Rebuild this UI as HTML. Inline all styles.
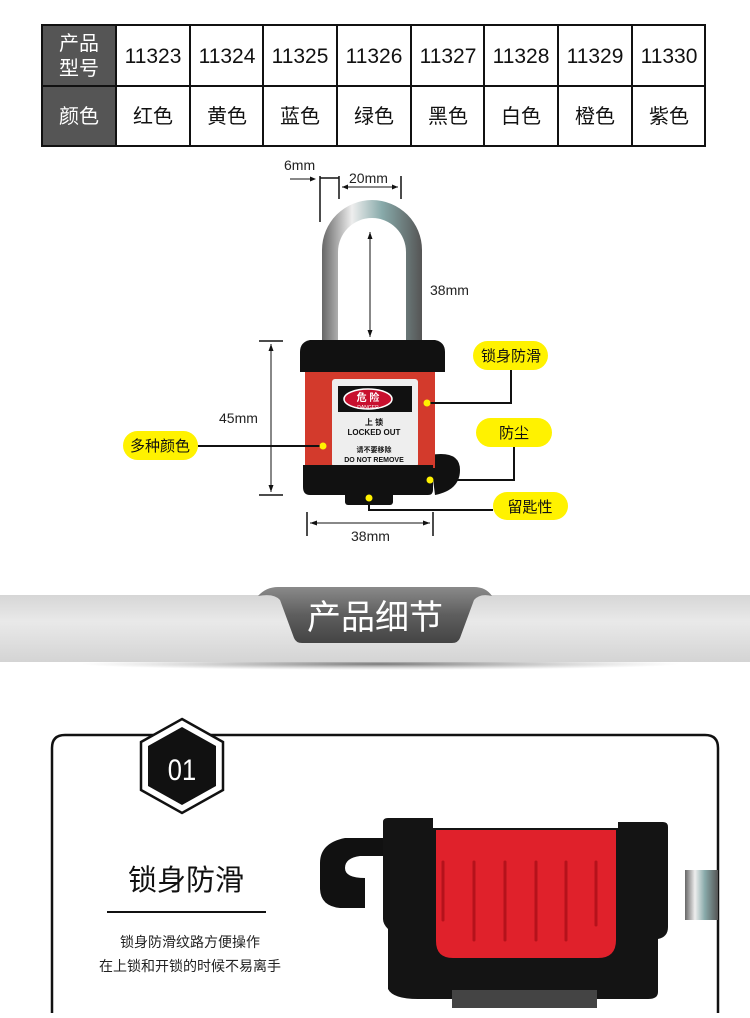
<!DOCTYPE html>
<html><head><meta charset="utf-8"><style>
body{margin:0;width:750px;height:1013px;background:#fff;overflow:hidden;font-family:"Liberation Sans","Noto Sans CJK SC",sans-serif;}
svg text{font-family:"Liberation Sans","Noto Sans CJK SC",sans-serif;}
</style></head><body>
<svg width="750" height="1013" viewBox="0 0 750 1013" xmlns="http://www.w3.org/2000/svg">
<defs>
<linearGradient id="band" x1="0" y1="0" x2="0" y2="1"><stop offset="0" stop-color="#d6d6d6"/><stop offset="0.4" stop-color="#e9e9e9"/><stop offset="1" stop-color="#d4d4d4"/></linearGradient>
<linearGradient id="tab" x1="0" y1="0" x2="0" y2="1"><stop offset="0" stop-color="#8a8a8a"/><stop offset="0.5" stop-color="#5e5e5e"/><stop offset="1" stop-color="#444"/></linearGradient>
<radialGradient id="shadow" cx="0.5" cy="0.5" r="0.5"><stop offset="0" stop-color="#555" stop-opacity="0.8"/><stop offset="1" stop-color="#999" stop-opacity="0"/></radialGradient>
<linearGradient id="chrome" x1="0" y1="0" x2="1" y2="0"><stop offset="0" stop-color="#666"/><stop offset="0.3" stop-color="#eee"/><stop offset="0.6" stop-color="#8aa"/><stop offset="1" stop-color="#555"/></linearGradient>
</defs>
<!-- table -->
<rect x="42" y="25" width="74" height="121" fill="#555"/>
<g stroke="#111" stroke-width="2" fill="none">
<rect x="42" y="25" width="663" height="121"/>
<line x1="42" y1="86" x2="705" y2="86"/>
<line x1="116" y1="25" x2="116" y2="146"/><line x1="190" y1="25" x2="190" y2="146"/><line x1="263" y1="25" x2="263" y2="146"/><line x1="337" y1="25" x2="337" y2="146"/><line x1="411" y1="25" x2="411" y2="146"/><line x1="484" y1="25" x2="484" y2="146"/><line x1="558" y1="25" x2="558" y2="146"/><line x1="632" y1="25" x2="632" y2="146"/>
</g>
<g font-size="20" fill="#fff" text-anchor="middle"><text x="79" y="50">产品</text><text x="79" y="75">型号</text><text x="79" y="123">颜色</text></g>
<g font-size="21" fill="#111" text-anchor="middle">
<text x="153" y="63">11323</text><text x="227" y="63">11324</text><text x="300" y="63">11325</text><text x="374" y="63">11326</text><text x="448" y="63">11327</text><text x="521" y="63">11328</text><text x="595" y="63">11329</text><text x="669" y="63">11330</text>
<g font-size="20"><text x="153" y="123">红色</text><text x="227" y="123">黄色</text><text x="300" y="123">蓝色</text><text x="374" y="123">绿色</text><text x="448" y="123">黑色</text><text x="521" y="123">白色</text><text x="595" y="123">橙色</text><text x="669" y="123">紫色</text></g>
</g>
<!-- padlock -->
<path d="M322 340 V250 a50 50 0 0 1 100 0 V340 h-16 V252 a34 34 0 0 0 -68 0 V340z" fill="url(#chrome)"/>
<path d="M300 352 q0 -10 10 -12 h125 q10 2 10 12 v20 h-145z" fill="#111"/>
<path d="M430 455 q30 -5 30 15 q0 20 -25 25z" fill="#111"/>
<rect x="305" y="372" width="130" height="96" fill="#d33a2c"/>
<rect x="332" y="379" width="86" height="88" rx="3" fill="#eee"/>
<rect x="338" y="386" width="74" height="26" fill="#111"/>
<ellipse cx="368" cy="399" rx="24" ry="10" fill="#c8102e" stroke="#fff" stroke-width="1.5"/>
<text x="368" y="401" font-size="10" fill="#fff" text-anchor="middle" font-weight="bold">危 险</text>
<text x="368" y="409" font-size="5" fill="#fff" text-anchor="middle">DANGER</text>
<g fill="#111" text-anchor="middle" font-weight="bold"><text x="374" y="425" font-size="8">上 锁</text><text x="374" y="435" font-size="8">LOCKED OUT</text><text x="374" y="452" font-size="7">请不要移除</text><text x="374" y="462" font-size="7">DO NOT REMOVE</text></g>
<path d="M303 465 h130 v25 q0 5 -5 5 h-118 q-7 0 -7 -8z" fill="#111"/>
<rect x="345" y="492" width="48" height="13" rx="3" fill="#111"/>
<!-- dims -->
<g stroke="#111" stroke-width="1.5" fill="none">
<line x1="320" y1="176" x2="320" y2="222"/><line x1="339" y1="176" x2="339" y2="199"/><line x1="401" y1="176" x2="401" y2="199"/><line x1="320" y1="178" x2="339" y2="178"/>
<line x1="290" y1="179" x2="314" y2="179" stroke-width="1"/><line x1="342" y1="187" x2="398" y2="187" stroke-width="1"/>
<line x1="370" y1="232" x2="370" y2="337" stroke-width="1"/>
<line x1="259" y1="341" x2="283" y2="341"/><line x1="259" y1="495" x2="283" y2="495"/><line x1="271" y1="344" x2="271" y2="492" stroke-width="1"/>
<line x1="307" y1="512" x2="307" y2="536"/><line x1="433" y1="512" x2="433" y2="536"/><line x1="310" y1="523" x2="430" y2="523" stroke-width="1"/>
</g>
<g fill="#111"><path d="M316 179 l-6 -2.5 v5z"/><path d="M342 187 l6 -2.5 v5z"/><path d="M398 187 l-6 -2.5 v5z"/><path d="M370 232 l-2.5 7 h5z"/><path d="M370 337 l-2.5 -7 h5z"/><path d="M271 344 l-2.5 7 h5z"/><path d="M271 492 l-2.5 -7 h5z"/><path d="M310 523 l7 -2.5 v5z"/><path d="M430 523 l-7 -2.5 v5z"/></g>
<g font-size="14" fill="#222"><text x="284" y="170">6mm</text><text x="349" y="183">20mm</text><text x="430" y="295">38mm</text><text x="219" y="423">45mm</text><text x="351" y="541">38mm</text></g>
<!-- callouts -->
<g stroke="#111" stroke-width="2" fill="none">
<polyline points="427,403 511,403 511,370"/><polyline points="430,480 514,480 514,447"/><polyline points="369,498 369,510 493,510"/><line x1="198" y1="446" x2="323" y2="446"/>
</g>
<g fill="#fff200"><circle cx="427" cy="403" r="3.5"/><circle cx="430" cy="480" r="3.5"/><circle cx="369" cy="498" r="3.5"/><circle cx="323" cy="446" r="3.5"/>
<rect x="473" y="341" width="75" height="29" rx="14.5"/><rect x="476" y="418" width="76" height="29" rx="14.5"/><rect x="493" y="492" width="75" height="28" rx="14"/><rect x="123" y="431" width="75" height="29" rx="14.5"/></g>
<g font-size="15" fill="#111" text-anchor="middle"><text x="511" y="361">锁身防滑</text><text x="514" y="438">防尘</text><text x="530" y="512">留匙性</text><text x="160" y="451">多种颜色</text></g>
<!-- banner -->
<ellipse cx="380" cy="664" rx="300" ry="6" fill="url(#shadow)"/>
<rect x="0" y="595" width="750" height="67" fill="url(#band)"/>
<path d="M258 596 q8 -9 20 -9 h196 q12 0 18 9 q-12 -3 -18 4 l-14 38 q-2 5 -8 5 h-150 q-6 0 -8 -5 l-14 -38 q-6 -7 -22 -4z" fill="url(#tab)"/>
<text x="375" y="629" font-size="34" fill="#fff" text-anchor="middle">产品细节</text>
<!-- card -->
<path d="M52 1013 V748 q0 -13 13 -13 H705 q13 0 13 13 V1013" fill="none" stroke="#111" stroke-width="2.5"/>
<polygon points="182,719 223,742 223,790 182,813 141,790 141,742" fill="#fff" stroke="#111" stroke-width="2.5"/>
<polygon points="182,727 216,746 216,786 182,805 148,786 148,746" fill="#111"/>
<text x="182" y="780" font-size="30" fill="#fff" text-anchor="middle" transform="translate(182 0) scale(0.85 1) translate(-182 0)">01</text>
<text x="186" y="890" font-size="29" fill="#111" text-anchor="middle">锁身防滑</text>
<line x1="107" y1="912" x2="266" y2="912" stroke="#111" stroke-width="2"/>
<text x="190" y="947" font-size="14" fill="#222" text-anchor="middle">锁身防滑纹路方便操作</text>
<text x="190" y="971" font-size="14" fill="#222" text-anchor="middle">在上锁和开锁的时候不易离手</text>
<!-- detail photo -->
<rect x="685" y="870" width="33" height="50" fill="url(#chrome)"/>
<path d="M345 838 q-25 5 -25 25 v25 q0 18 20 20 h25 v-30 q-20 0 -20 -10 q0 -10 15 -12 h40 v-18z" fill="#111"/>
<path d="M383 822 q0 -4 5 -4 h45 v10 h185 v-6 h45 q5 0 5 5 v100 q0 10 -10 12 v53 q0 7 -10 7 h-230 q-25 0 -30 -10 v-60 q-5 -5 -5 -10z" fill="#141414"/>
<path d="M436 830 h180 v110 q0 18 -18 18 h-145 q-17 0 -17 -17z" fill="#e0212b"/>
<g stroke="#b5121b" stroke-width="3" stroke-linecap="round"><line x1="443" y1="862" x2="443" y2="920"/><line x1="474" y1="862" x2="474" y2="940"/><line x1="505" y1="862" x2="505" y2="940"/><line x1="536" y1="862" x2="536" y2="940"/><line x1="566" y1="862" x2="566" y2="940"/><line x1="596" y1="862" x2="596" y2="925"/></g>
<rect x="452" y="990" width="145" height="18" fill="#444"/>
</svg>
</body></html>
